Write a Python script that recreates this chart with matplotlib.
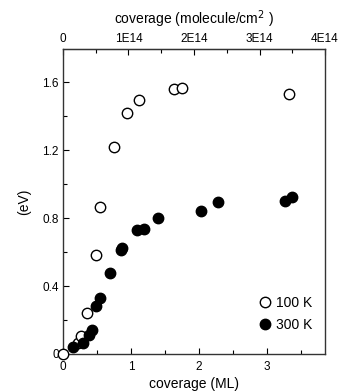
import matplotlib
matplotlib.use("Agg")
import matplotlib.pyplot as plt
from matplotlib.ticker import MultipleLocator, FixedLocator

plt.rcParams['font.family'] = ['Liberation Sans', 'DejaVu Sans']

# Coverage (ML) and energy (eV)
cov_100K = [0.0, 0.22, 0.26, 0.36, 0.48, 0.54, 0.75, 0.94, 1.12, 1.63, 1.75, 3.32]
e_100K = [0.0, 0.066, 0.108, 0.243, 0.582, 0.866, 1.216, 1.42, 1.494, 1.557, 1.565, 1.53]

cov_300K = [0.14, 0.29, 0.38, 0.42, 0.48, 0.55, 0.69, 0.85, 0.87,
            1.09, 1.19, 1.40, 2.03, 2.28, 3.26, 3.36]
e_300K = [0.04, 0.064, 0.11, 0.14, 0.285, 0.331, 0.475, 0.61, 0.625,
          0.727, 0.733, 0.798, 0.841, 0.894, 0.90, 0.925]

bottom_ticks = [0, 1, 2, 3]
left_ticks = [0, 0.4, 0.8, 1.2, 1.6]
left_tick_labels = ["0", "0.4", "0.8", "1.2", "1.6"]
top_ticks = [0, 1e14, 2e14, 3e14, 4e14]
top_tick_labels = ["0", "1E14", "2E14", "3E14", "4E14"]

x_max = 3.85          # ML
top_max = 4e14        # molecule/cm^2 at x_max
ml_per_unit = x_max / top_max

fig = plt.figure(figsize=(3.48, 3.92), dpi=100)
ax = fig.add_axes([0.181, 0.097, 0.753, 0.778])

ax.plot(cov_100K, e_100K, 'o', ms=7.5, mfc='white', mec='black', mew=1.0,
        label='100 K', clip_on=False, zorder=3)
ax.plot(cov_300K, e_300K, 'o', ms=7.5, mfc='black', mec='black', mew=1.0,
        label='300 K', clip_on=False, zorder=3)

ax.set_xlim(0, x_max)
ax.set_ylim(0, 1.795)

ax.xaxis.set_major_locator(FixedLocator(bottom_ticks))
ax.xaxis.set_minor_locator(MultipleLocator(0.5))
ax.yaxis.set_major_locator(FixedLocator(left_ticks))
ax.set_yticklabels(left_tick_labels)
ax.yaxis.set_minor_locator(MultipleLocator(0.2))

ax.tick_params(which='both', direction='in', right=False, top=False,
               labelsize=8.5)
ax.tick_params(axis='x', pad=5)
ax.tick_params(axis='y', pad=3)
ax.tick_params(which='major', length=4, width=0.8)
ax.tick_params(which='minor', length=3, width=0.8)

for s in ax.spines.values():
    s.set_linewidth(1.0)
    s.set_color('#333333')

ax.set_xlabel('coverage (ML)', fontsize=10, labelpad=3)
ax.set_ylabel('(eV)', fontsize=10, labelpad=8)

# Top axis in molecule/cm^2
top = ax.secondary_xaxis('top', functions=(lambda x: x / ml_per_unit,
                                           lambda n: n * ml_per_unit))
top.xaxis.set_major_locator(FixedLocator(top_ticks))
top.set_xticklabels(top_tick_labels)
top.xaxis.set_minor_locator(MultipleLocator(0.5e14))
top.tick_params(which='both', direction='in', labelsize=8.5, pad=3)
top.tick_params(which='major', length=4, width=0.8)
top.tick_params(which='minor', length=3, width=0.8)
top.set_xlabel('coverage (molecule/cm$^2$ )', fontsize=10, labelpad=6)

ax.legend(loc='lower right', bbox_to_anchor=(0.99, 0.04), frameon=False,
          fontsize=10, handletextpad=0.2, labelspacing=0.6, borderaxespad=0.3,
          handlelength=1.2)

fig.savefig('out.png', dpi=100)
